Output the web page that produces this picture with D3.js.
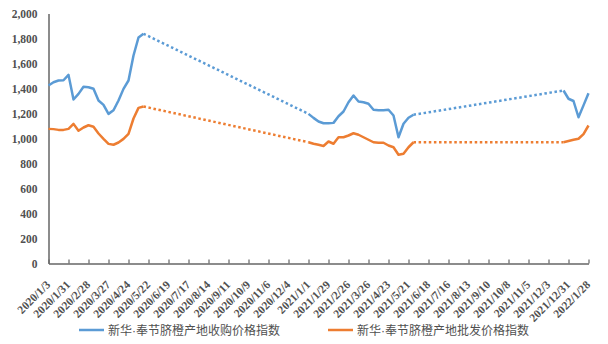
<!DOCTYPE html>
<html>
<head>
<meta charset="utf-8">
<script src="https://cdn.jsdelivr.net/npm/d3@7"></script>
<style>
  html, body { margin: 0; padding: 0; background: #fff; }
  svg { display: block; }
  .tick-label { font-family: "Liberation Serif", "Times New Roman", serif; font-weight: bold; }
</style>
</head>
<body>
<svg id="chart" width="608" height="344"></svg>
<script>
// Weekly observation dates (the market is quiet between seasons, so there are gaps)
const sampleDates = [
  "2020/1/3","2020/1/10","2020/1/17","2020/1/24","2020/1/31","2020/2/7","2020/2/14","2020/2/21",
  "2020/2/28","2020/3/6","2020/3/13","2020/3/20","2020/3/27","2020/4/3","2020/4/10","2020/4/17",
  "2020/4/24","2020/5/1","2020/5/8","2020/5/15",
  "2021/1/1","2021/1/8","2021/1/15","2021/1/22","2021/1/29","2021/2/5","2021/2/12","2021/2/19",
  "2021/2/26","2021/3/5","2021/3/12","2021/3/19","2021/3/26","2021/4/2","2021/4/9","2021/4/16",
  "2021/4/23","2021/4/30","2021/5/7","2021/5/14","2021/5/21","2021/5/28",
  "2021/12/24","2021/12/31","2022/1/7","2022/1/14","2022/1/21","2022/1/28"
];

// 新华·奉节脐橙产地收购价格指数
const purchaseIndex = [
  1424, 1450, 1464, 1466, 1509, 1312, 1357, 1414,
  1410, 1398, 1304, 1269, 1197, 1226, 1304, 1397,
  1464, 1664, 1808, 1838,
  1197, 1165, 1136, 1122, 1122, 1125, 1178, 1216,
  1290, 1344, 1296, 1290, 1278, 1230, 1226, 1226,
  1230, 1184, 1010, 1118, 1166, 1190,
  1384, 1318, 1300, 1170, 1265, 1362
];

// 新华·奉节脐橙产地批发价格指数
const wholesaleIndex = [
  1077, 1075, 1069, 1069, 1077, 1117, 1062, 1088,
  1106, 1094, 1040, 997, 957, 950, 968, 997,
  1037, 1160, 1245, 1256,
  970, 958, 950, 940, 976, 958, 1010, 1010,
  1024, 1042, 1030, 1010, 990, 970, 966, 966,
  944, 930, 870, 878, 930, 970,
  970, 980, 990, 998, 1035, 1104
];

const seriesNames = ["新华·奉节脐橙产地收购价格指数", "新华·奉节脐橙产地批发价格指数"];
const seriesColors = ["#5B9BD5", "#ED7D31"];

const xTickLabels = [
  "2020/1/3","2020/1/31","2020/2/28","2020/3/27","2020/4/24","2020/5/22","2020/6/19",
  "2020/7/17","2020/8/14","2020/9/11","2020/10/9","2020/11/6","2020/12/4","2021/1/1",
  "2021/1/29","2021/2/26","2021/3/26","2021/4/23","2021/5/21","2021/6/18","2021/7/16",
  "2021/8/13","2021/9/10","2021/10/8","2021/11/5","2021/12/3","2021/12/31","2022/1/28"
];
const yTicks = [0, 200, 400, 600, 800, 1000, 1200, 1400, 1600, 1800, 2000];

const parse = d3.timeParse("%Y/%-m/%-d");
const fmt = d3.timeFormat("%Y/%-m/%-d");
const dates = sampleDates.map(parse);
const tickDates = xTickLabels.map(parse);

const svg = d3.select("#chart");
const plotLeft = 48.5, plotRight = 588.5, plotTop = 13.5, plotBottom = 263.5;

const x = d3.scaleTime()
  .domain([tickDates[0], tickDates[tickDates.length - 1]])
  .range([plotLeft, plotRight]);
const y = d3.scaleLinear().domain([0, 2000]).range([plotBottom, plotTop]);

const axisColor = "#666666";
const labelColor = "#505050";
const serif = "'Liberation Serif', 'Times New Roman', serif";

// y axis: labels only, plus the vertical rule
const yAxis = svg.append("g")
  .attr("transform", `translate(${plotLeft},0)`)
  .call(d3.axisLeft(y).tickValues(yTicks).tickFormat(d3.format(",")).tickSize(0).tickPadding(11));
yAxis.attr("font-family", serif).attr("font-size", 11.5);
yAxis.select(".domain").attr("stroke", axisColor).attr("stroke-width", 1.5);
yAxis.selectAll("text")
  .attr("class", "tick-label")
  .attr("fill", labelColor)
  .attr("font-weight", "bold");

// x axis: inward tick marks, rotated date labels
const xAxis = svg.append("g")
  .attr("transform", `translate(0,${plotBottom})`)
  .call(d3.axisBottom(x).tickValues(tickDates).tickFormat(fmt).tickSizeInner(-4).tickSizeOuter(0));
xAxis.attr("font-family", serif).attr("font-size", 11.5);
xAxis.select(".domain").attr("stroke", axisColor).attr("stroke-width", 1.5);
xAxis.selectAll(".tick line").attr("stroke", axisColor).attr("stroke-width", 1.2);
xAxis.selectAll("text")
  .attr("class", "tick-label")
  .attr("fill", labelColor)
  .attr("font-weight", "bold")
  .attr("text-anchor", "end")
  .attr("y", 0)
  .attr("dy", 0)
  .attr("transform", "translate(2,22) rotate(-45)");

const line = d3.line()
  .x(d => x(d.date))
  .y(d => y(d.value));

const WEEK = 7 * 24 * 3600 * 1000;

function drawSeries(values, color) {
  const pts = dates.map((date, i) => ({ date, value: values[i] }));
  // split into runs of consecutive weeks; bridge the gaps with dotted lines
  const runs = [];
  let cur = [pts[0]];
  for (let i = 1; i < pts.length; i++) {
    if (pts[i].date - pts[i - 1].date > WEEK * 1.5) {
      runs.push(cur);
      cur = [pts[i]];
    } else {
      cur.push(pts[i]);
    }
  }
  runs.push(cur);

  const g = svg.append("g");
  for (let r = 0; r < runs.length - 1; r++) {
    const a = runs[r][runs[r].length - 1], b = runs[r + 1][0];
    g.append("path")
      .attr("d", line([a, b]))
      .attr("fill", "none")
      .attr("stroke", color)
      .attr("stroke-width", 2.5)
      .attr("stroke-dasharray", "2.5 2.6");
  }
  runs.forEach(run => {
    g.append("path")
      .attr("d", line(run))
      .attr("fill", "none")
      .attr("stroke", color)
      .attr("stroke-width", 2.5)
      .attr("stroke-linejoin", "round");
  });
}

drawSeries(wholesaleIndex, seriesColors[1]);
drawSeries(purchaseIndex, seriesColors[0]);

// legend
const legendItems = [
  { x: 79, name: seriesNames[0], color: seriesColors[0] },
  { x: 328, name: seriesNames[1], color: seriesColors[1] }
];
const legend = svg.append("g").attr("transform", "translate(0,330)");
legendItems.forEach(it => {
  legend.append("line")
    .attr("x1", it.x).attr("x2", it.x + 25)
    .attr("y1", 0).attr("y2", 0)
    .attr("stroke", it.color).attr("stroke-width", 2.5);
  legend.append("text")
    .attr("x", it.x + 29).attr("y", 4.5)
    .attr("fill", labelColor)
    .style("font-family", "'Liberation Sans', 'Noto Sans CJK SC', sans-serif")
    .style("font-size", "12px")
    .text(it.name);
});
</script>
</body>
</html>
